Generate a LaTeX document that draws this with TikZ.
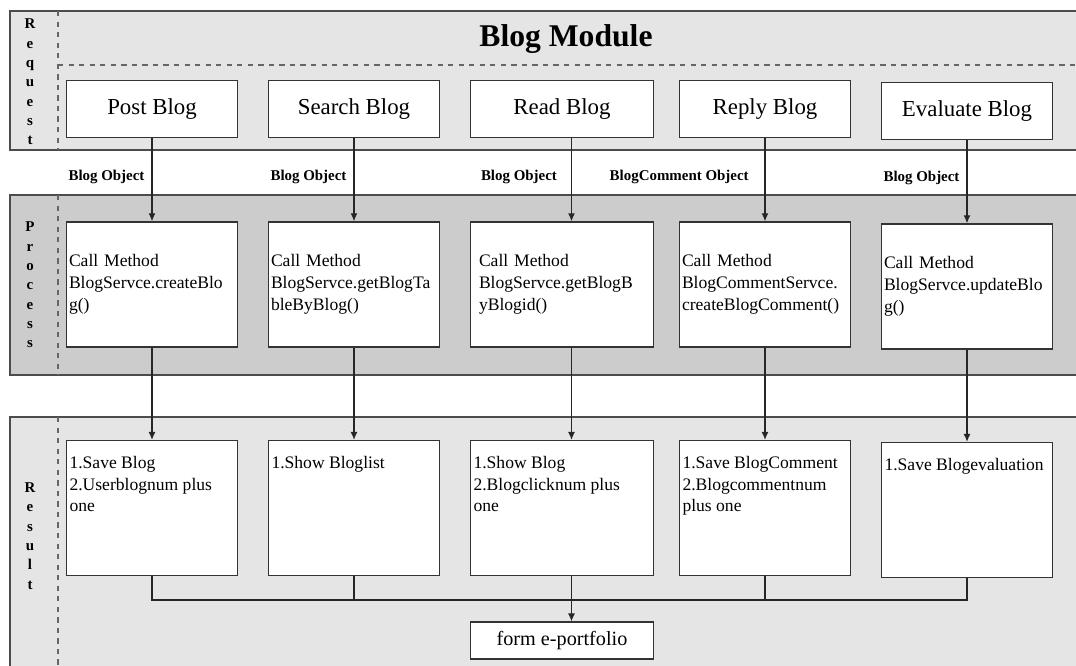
\documentclass[tikz,border=0pt]{standalone}
\usepackage{fontspec}
\setmainfont{Liberation Serif}
\usetikzlibrary{positioning,arrows.meta}
\newcommand{\restxt}[1]{\parbox[c][2.5cm][t]{3.3cm}{\raggedright\rule{0pt}{0.46cm}#1}}

\begin{document}
\begin{tikzpicture}
    [x=0.02cm,y=-0.02cm,>={Latex[length=1.6mm,width=1.4mm]},node distance=1.66cm,
     lane/.style={draw=black!70,line width=0.6pt},
     sep/.style={draw=black!60,dashed,line width=0.6pt},
     box/.style={draw=black!80,fill=white,line width=0.9pt},
     req/.style={box,minimum width=3.42cm,minimum height=1.14cm,font=\fontsize{13}{15}\selectfont},
     call/.style={box,minimum height=2.5cm,text width=3.32cm,inner xsep=0.05cm,align=left,font=\fontsize{10}{12.5}\selectfont},
     res/.style={box,inner xsep=0.06cm,inner ysep=0.1cm,font=\fontsize{10}{12.3}\selectfont},
     wide/.style={minimum width=3.66cm},
     obj/.style={left,inner xsep=4pt,text=black,font=\bfseries\fontsize{8.5}{10}\selectfont},
     side/.style={align=center,font=\bfseries\fontsize{8.5}{11}\selectfont},
     link/.style={color=black!85,line width=0.6pt}]
    \useasboundingbox (0,0) rectangle (1076,666);
    \filldraw[lane,fill=black!10] (10,11) rectangle (1080,150);
    \filldraw[lane,fill=black!20] (10,195) rectangle (1080,375);
    \filldraw[lane,fill=black!10] (10,417) rectangle (1080,670);
    \draw[sep] (58,11) -- (58,150) (58,65) -- (1076,65);
    \draw[sep] (58,195) -- (58,375);
    \draw[sep] (58,417) -- (58,666);
    \node[font=\bfseries\fontsize{18}{20}\selectfont] (title) at (566,39) {Blog Module};
    \node[side] (lreq) at (30,82) {R\\e\\q\\u\\e\\s\\t};
    \node[side] (lpro) at (30,285) {P\\r\\o\\c\\e\\s\\s};
    \node[side] (lres) at (30,536) {R\\e\\s\\u\\l\\t};
    \node[req] (post) at (152,109) {Post Blog};
    \node[req] (srch) at (354,109) {Search Blog};
    \node[req,wide] (read) at (562,109) {Read Blog};
    \node[req] (rply) at (765,109) {Reply Blog};
    \node[req] (eval) at (967,111) {Evaluate Blog};
    \node[call] (cpost) [below=of post] {Call Method\\BlogServce.createBlo\\g()};
    \node[call] (csrch) [below=of srch] {Call Method\\BlogServce.getBlogTa\\bleByBlog()};
    \node[call,wide] (cread) [below=of read] {Call Method\\BlogServce.getBlogB\\yBlogid()};
    \node[call] (crply) [below=of rply] {Call Method\\BlogCommentServce.\\createBlogComment()};
    \node[call] (ceval) [below=of eval] {Call Method\\BlogServce.updateBlo\\g()};
    \node[res] (rpost) [below=1.84cm of cpost] {\restxt{1.Save Blog\\2.Userblognum plus\\one}};
    \node[res] (rsrch) [below=1.84cm of csrch] {\restxt{1.Show Bloglist}};
    \node[res] (rread) [below=1.84cm of cread] {\parbox[c][2.5cm][t]{3.54cm}{\raggedright\rule{0pt}{0.46cm}1.Show Blog\\2.Blogclicknum plus\\one}};
    \node[res] (rrply) [below=1.84cm of crply] {\restxt{1.Save BlogComment\\2.Blogcommentnum\\plus one}};
    \node[res] (reval) [below=1.84cm of ceval] {\restxt{1.Save Blogevaluation}};
    \node[box,wide,minimum height=0.74cm,font=\fontsize{11.5}{13}\selectfont] (port) [below=0.9cm of rread] {form e-portfolio};
    \coordinate (bus) at (572,600);
    \path[link,->] (post) edge node[obj,pos=.47] {Blog Object} (cpost)
                   (srch) edge node[obj,pos=.47] {Blog Object} (csrch)
                   ([xshift=0.19cm]read.south) edge node[obj,pos=.47,xshift=-4pt] {Blog Object} ([xshift=0.19cm]cread.north)
                   (rply) edge node[obj,pos=.47,xshift=-5pt] {BlogComment Object} (crply)
                   (eval) edge node[obj,pos=.45] {Blog Object} (ceval)
                   (cpost) edge (rpost)
                   (csrch) edge (rsrch)
                   ([xshift=0.19cm]cread.south) edge ([xshift=0.19cm]rread.north)
                   (crply) edge (rrply)
                   (ceval) edge (reval)
                   ([xshift=0.19cm]rread.south) edge ([xshift=0.19cm]port.north);
    \draw[link] (rpost.south) |- (bus) -| (reval.south)
                (rsrch.south) -- (rsrch.south |- bus)
                (rrply.south) -- (rrply.south |- bus);
\end{tikzpicture}
\end{document}
